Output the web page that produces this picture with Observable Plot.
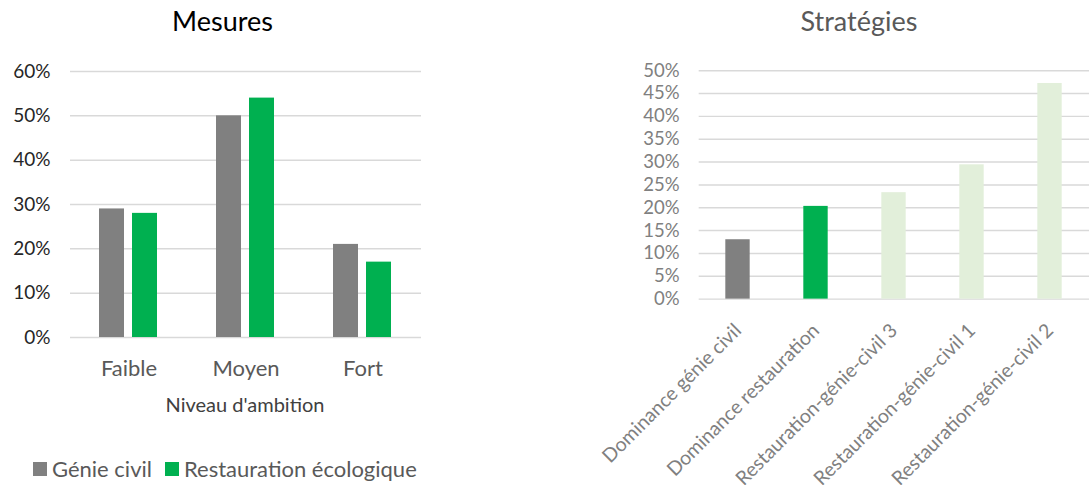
<!DOCTYPE html>
<html>
<head>
<meta charset="utf-8">
<script src="https://cdn.jsdelivr.net/npm/d3@7"></script>
<script src="https://cdn.jsdelivr.net/npm/@observablehq/plot@0.6"></script>
<style>
  html, body { margin: 0; padding: 0; background: #fff; overflow: hidden; }
  body { width: 1089px; height: 485px; position: relative; font-family: Lato, "Open Sans", sans-serif; }
  .abs { position: absolute; white-space: nowrap; }
  #left { position: absolute; left: 0; top: 50px; }
  #right { position: absolute; left: 620px; top: 50px; }
  .title { font-size: 27px; line-height: 1; }
  .legend { font-size: 22px; color: #595959; display: flex; align-items: center; }
  .sw { display: inline-block; width: 14px; height: 14px; margin-right: 5px; }
</style>
</head>
<body>
<div class="abs title" style="left:0; width:445px; text-align:center; top:7px; color:#000;">Mesures</div>
<div class="abs title" style="left:759px; width:200px; text-align:center; top:7px; color:#595959;">Stratégies</div>
<div id="left"></div>
<div id="right"></div>
<div class="abs" style="left:0; width:490px; text-align:center; top:392px; font-size:20px; color:#404040;">Niveau d'ambition</div>
<div class="abs legend" style="left:33px; top:455px;">
  <span class="sw" style="background:#808080"></span><span style="margin-right:13px">Génie civil</span>
  <span class="sw" style="background:#00B050"></span><span>Restauration écologique</span>
</div>
<script>
// ---- Data: Mesures ----
const levels = ["Faible", "Moyen", "Fort"];
const seriesNames = ["Génie civil", "Restauration écologique"];
const genieCivil = [0.29, 0.50, 0.21];
const restauration = [0.28, 0.54, 0.17];
const seriesColors = ["#808080", "#00B050"];
const mesuresTicks = [0, 0.1, 0.2, 0.3, 0.4, 0.5, 0.6];

// ---- Data: Stratégies ----
const strategies = ["Dominance génie civil", "Dominance restauration", "Restauration-génie-civil 3", "Restauration-génie-civil 1", "Restauration-génie-civil 2"];
const strategyValues = [0.13, 0.203, 0.233, 0.294, 0.472];
const strategyColors = ["#808080", "#00B050", "#E2EFDA", "#E2EFDA", "#E2EFDA"];
const strategyTicks = [0, 0.05, 0.1, 0.15, 0.2, 0.25, 0.3, 0.35, 0.4, 0.45, 0.5];

const pct = d => Math.round(d * 100) + "%";

const mesures = [];
levels.forEach((l, i) => {
  mesures.push({level: l, series: seriesNames[0], value: genieCivil[i]});
  mesures.push({level: l, series: seriesNames[1], value: restauration[i]});
});

const left = Plot.plot({
  width: 440,
  height: 340,
  marginLeft: 69,
  marginRight: 19,
  marginTop: 21,
  marginBottom: 53,
  style: {fontFamily: "Lato, sans-serif", background: "transparent"},
  fx: {domain: levels, padding: 0, label: null},
  x: {domain: seriesNames, paddingInner: 0.235, paddingOuter: 0.843, axis: null},
  y: {domain: [0, 0.6], ticks: mesuresTicks, tickFormat: pct, label: null},
  color: {domain: seriesNames, range: seriesColors},
  marks: [
    Plot.ruleY(mesuresTicks, {stroke: "#D9D9D9", strokeWidth: 1.5}),
    Plot.barY(mesures, {fx: "level", x: "series", y: "value", fill: "series"}),
    Plot.axisY({ticks: mesuresTicks, tickFormat: pct, tickSize: 0, tickPadding: 20, fontSize: 19, fill: "#262626", label: null}),
    Plot.axisFx({anchor: "bottom", tickSize: 0, tickPadding: 23, fontSize: 22, fill: "#595959", label: null})
  ]
});
document.getElementById("left").appendChild(left);

const stratData = strategies.map((s, i) => ({strategy: s, value: strategyValues[i], color: strategyColors[i]}));

const right = Plot.plot({
  width: 481,
  height: 435,
  marginLeft: 80.7,
  marginRight: 0,
  marginTop: 20.7,
  marginBottom: 180,
  style: {fontFamily: "Lato, sans-serif", background: "transparent", overflow: "visible"},
  x: {domain: strategies, paddingInner: 0.6875, paddingOuter: 0.34375, label: null},
  y: {domain: [0, 0.5], ticks: strategyTicks, tickFormat: pct, label: null},
  marks: [
    Plot.ruleY(strategyTicks, {stroke: "#D9D9D9", strokeWidth: 1.5}),
    Plot.barY(stratData, {x: "strategy", y: "value", fill: "color"}),
    Plot.axisY({ticks: strategyTicks, tickFormat: pct, tickSize: 0, tickPadding: 20, fontSize: 19, fill: "#808080", label: null}),
    Plot.axisX({tickSize: 0, tickPadding: 29, tickRotate: -45, fontSize: 20, fill: "#808080", label: null})
  ]
});
document.getElementById("right").appendChild(right);
</script>
</body>
</html>
